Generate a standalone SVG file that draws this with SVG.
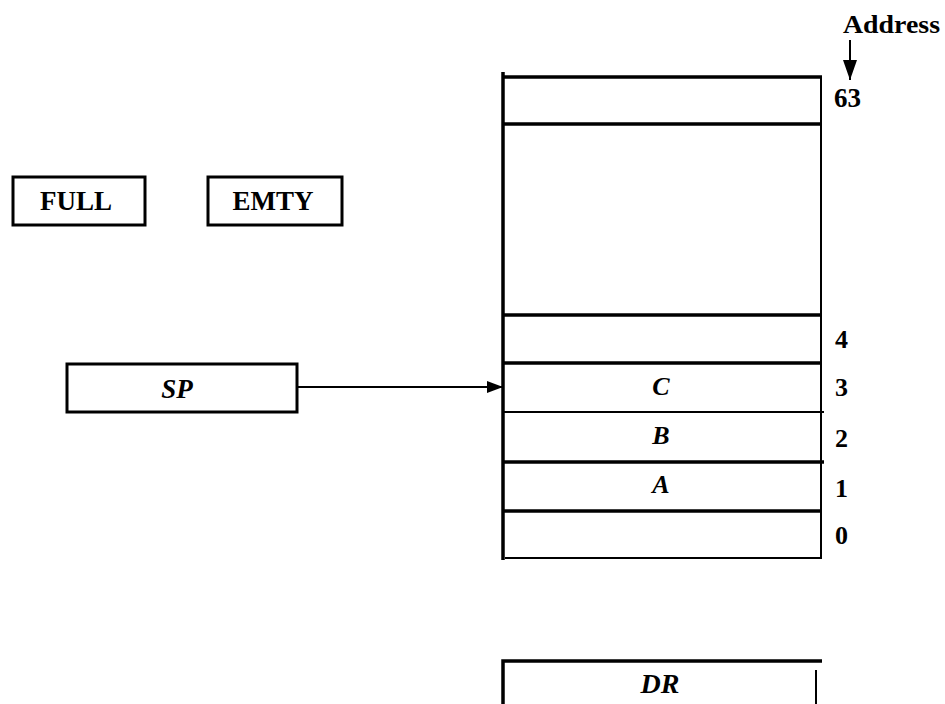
<svg xmlns="http://www.w3.org/2000/svg" width="945" height="704" viewBox="0 0 945 704">
<style>
.box{fill:#fff;stroke:#000;stroke-width:3}
.thin{stroke:#000;stroke-width:2;fill:none}
.thick{stroke:#000;stroke-width:3.5;fill:none}
.t{font-family:"Liberation Serif",serif;font-weight:bold;font-size:27px;fill:#000;text-anchor:middle}
.i{font-family:"Liberation Serif",serif;font-weight:bold;font-style:italic;font-size:26px;fill:#000;text-anchor:middle}
.n{font-family:"Liberation Serif",serif;font-weight:bold;font-size:26px;fill:#000}
</style>
<defs>
<marker id="ah" markerWidth="16" markerHeight="12" refX="16" refY="6" orient="auto" markerUnits="userSpaceOnUse">
<path d="M0,0 L16,6 L0,12 Z" fill="#000"/>
</marker>
<marker id="ah2" markerWidth="20" markerHeight="14" refX="20" refY="7" orient="auto" markerUnits="userSpaceOnUse">
<path d="M0,0 L20,7 L0,14 Z" fill="#000"/>
</marker>
</defs>
<rect width="945" height="704" fill="#fff"/>
<g id="full"><rect class="box" x="13" y="177" width="132" height="48"/><text class="t" x="76" y="210">FULL</text></g>
<g id="emty"><rect class="box" x="208" y="177" width="134" height="48"/><text class="t" x="273" y="210">EMTY</text></g>
<g id="sp"><rect class="box" x="67" y="364" width="230" height="48"/><text class="i" x="177" y="398" style="font-size:27px">SP</text></g>
<g id="memory">
<line class="thin" x1="821" y1="76" x2="821" y2="558"/>
<line class="thick" x1="503" y1="72" x2="503" y2="560"/>
<line class="thick" x1="503" y1="77" x2="822" y2="77"/>
<line class="thick" x1="503" y1="124" x2="822" y2="124"/>
<line class="thick" x1="503" y1="315" x2="822" y2="315"/>
<line class="thick" x1="503" y1="363" x2="822" y2="363"/>
<line class="thin" x1="503" y1="412" x2="824" y2="412"/>
<line class="thick" x1="503" y1="462" x2="824" y2="462"/>
<line class="thick" x1="503" y1="511" x2="822" y2="511"/>
<line class="thin" x1="505" y1="558" x2="822" y2="558"/>
<text class="i" x="661" y="395">C</text>
<text class="i" x="661" y="444">B</text>
<text class="i" x="661" y="493">A</text>
</g>
<g id="addresses">
<text class="n" x="834" y="107" style="font-size:27px">63</text>
<text class="n" x="835" y="348">4</text>
<text class="n" x="835" y="396">3</text>
<text class="n" x="835" y="447">2</text>
<text class="n" x="835" y="497">1</text>
<text class="n" x="835" y="544">0</text>
<text class="n" x="843" y="33" style="font-size:26px" textLength="97" lengthAdjust="spacingAndGlyphs">Address</text>
</g>
<g id="dr"><path class="thick" d="M503,704 L503,661 L822,661"/><line class="thin" x1="816" y1="670" x2="816" y2="704"/><text class="i" x="660" y="693" style="font-size:28px">DR</text></g>
<g id="connectors">
<line class="thin" x1="297" y1="387" x2="503" y2="387" marker-end="url(#ah)"/>
<line class="thin" x1="850" y1="40" x2="850" y2="80" marker-end="url(#ah2)"/>
</g>
</svg>
